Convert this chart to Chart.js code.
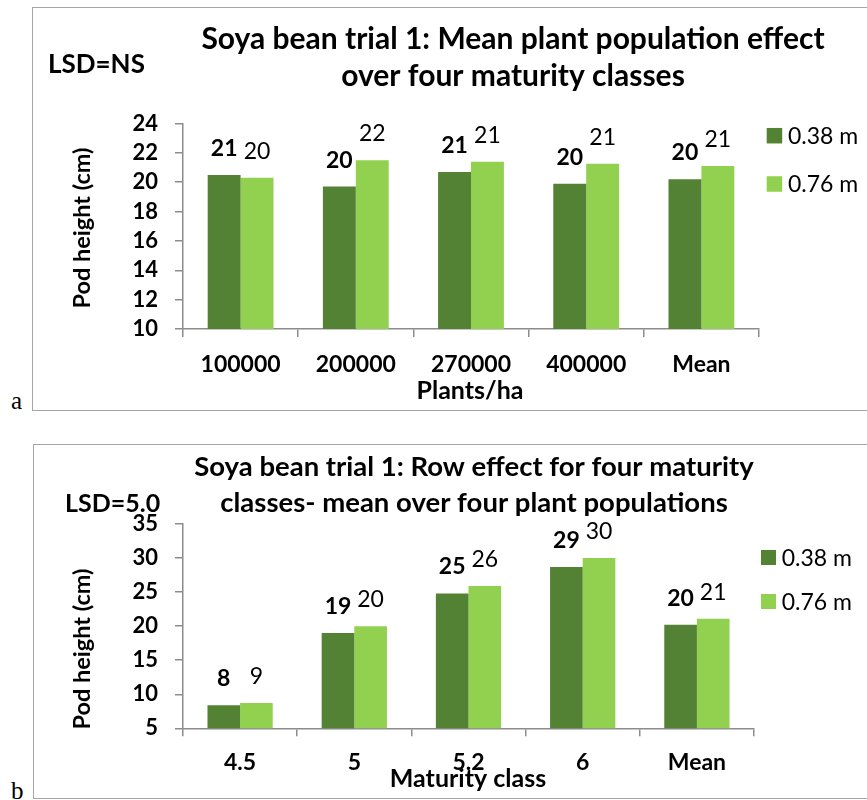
<!DOCTYPE html>
<html><head><meta charset="utf-8">
<script src="https://cdn.jsdelivr.net/npm/chart.js@4.4.1/dist/chart.umd.min.js"></script>
<style>
html,body{margin:0;padding:0;background:#fff;overflow:hidden;width:867px;height:800px;}
.box{position:absolute;border:1px solid #a6a6a6;box-sizing:border-box;}
#boxA{left:32px;top:7px;width:900px;height:404px;}
#boxB{left:33px;top:444px;width:900px;height:355px;}
.box canvas{position:absolute;left:0;top:0;}
.tag{position:absolute;font-family:'Liberation Serif',serif;font-size:25px;color:#000;line-height:1;}
</style></head>
<body>
<div class="tag" style="left:11px;top:388px;">a</div>
<div id="boxA" class="box"><canvas id="cA" width="834" height="402"></canvas></div>
<div class="tag" style="left:11px;top:778px;">b</div>
<div id="boxB" class="box"><canvas id="cB" width="833" height="353"></canvas></div>
<script>
// ---- data ----
const seriesLabels = ['0.38 m', '0.76 m'];
const popCategories = ['100000', '200000', '270000', '400000', 'Mean'];
const popRow038 = [20.5, 19.7, 20.7, 19.9, 20.2];
const popRow076 = [20.3, 21.5, 21.4, 21.25, 21.1];
const popAxis = [10, 24, 2];
const matCategories = ['4.5', '5', '5.2', '6', 'Mean'];
const matRow038 = [8.4, 19.0, 24.8, 28.7, 20.2];
const matRow076 = [8.7, 20.0, 25.9, 30.0, 21.1];
const matAxis = [5, 35, 5];
const titleA = ['Soya bean trial 1: Mean plant population effect', 'over four maturity classes'];
const titleB = ['Soya bean trial 1: Row effect for four maturity', 'classes- mean over four plant populations'];
const lsdA = 'LSD=NS';
const lsdB = 'LSD=5.0';
const xTitleA = 'Plants/ha';
const xTitleB = 'Maturity class';
const yTitle = 'Pod height (cm)';

const DARK = '#548235', LIGHT = '#92D050', AXIS = '#8c8c8c';
const FONT = 'Lato';

const annot = {
  id: 'annot',
  afterDatasetsDraw(chart) {
    const ctx = chart.ctx;
    chart.data.datasets.forEach((ds, di) => {
      const meta = chart.getDatasetMeta(di);
      meta.data.forEach((bar, i) => {
        ctx.save();
        ctx.font = (di === 0 ? 'bold ' : '') + '23px ' + FONT;
        ctx.fillStyle = '#000';
        ctx.textAlign = 'center';
        ctx.textBaseline = 'alphabetic';
        ctx.fillText(String(Math.round(ds.data[i])), bar.x, bar.y - 19);
        ctx.restore();
      });
    });
  },
  afterDraw(chart, args, o) {
    const ctx = chart.ctx;
    ctx.save();
    ctx.fillStyle = '#000';
    ctx.textBaseline = 'alphabetic';
    // title
    ctx.font = 'bold ' + o.titleSize + 'px ' + FONT;
    ctx.textAlign = 'center';
    o.title.forEach((t, i) => ctx.fillText(t, o.titleX, o.titleY[i]));
    // LSD
    ctx.font = 'bold ' + o.lsdSize + 'px ' + FONT;
    ctx.textAlign = 'left';
    ctx.fillText(o.lsd, o.lsdX, o.lsdY);
    // x title
    ctx.font = 'bold 25px ' + FONT;
    ctx.textAlign = 'center';
    ctx.fillText(o.xTitle, o.xTitleX, o.xTitleY);
    // y title
    ctx.save();
    ctx.translate(o.yTitleX, o.yTitleY);
    ctx.rotate(-Math.PI / 2);
    ctx.font = 'bold 23.5px ' + FONT;
    ctx.textAlign = 'center';
    ctx.fillText(yTitle, 0, 0);
    ctx.restore();
    // legend
    ctx.font = '23px ' + FONT;
    ctx.textAlign = 'left';
    chart.data.datasets.forEach((ds, i) => {
      ctx.fillStyle = ds.backgroundColor;
      ctx.fillRect(o.legX, o.legY[i] - o.legSq / 2, o.legSq, o.legSq);
      ctx.fillStyle = '#000';
      ctx.fillText(ds.label, o.legTextX, o.legY[i] + 8);
    });
    ctx.restore();
  }
};

function makeChart(id, cats, d1, d2, axis, geom, ann) {
  return new Chart(document.getElementById(id), {
    type: 'bar',
    data: {
      labels: cats,
      datasets: [
        { label: seriesLabels[0], data: d1, backgroundColor: DARK, borderWidth: 0 },
        { label: seriesLabels[1], data: d2, backgroundColor: LIGHT, borderWidth: 0 }
      ]
    },
    options: {
      responsive: false,
      animation: false,
      devicePixelRatio: 1,
      layout: { padding: { left: 0, top: geom.top, right: geom.right, bottom: 0 } },
      datasets: { bar: { categoryPercentage: 2 / 3.5, barPercentage: 1 } },
      plugins: { legend: { display: false }, tooltip: { enabled: false }, title: { display: false }, annot: ann },
      scales: {
        x: {
          offset: true,
          grid: { display: true, offset: true, drawOnChartArea: false, drawTicks: true, tickLength: 8, color: AXIS, lineWidth: 1.5 },
          border: { display: true, color: AXIS, width: 1.5 },
          ticks: { color: '#000', font: { family: FONT, size: 23, weight: 'bold' }, padding: geom.xPad, maxRotation: 0, autoSkip: false },
          afterFit(s) { s.height = geom.xH; }
        },
        y: {
          min: axis[0], max: axis[1],
          grid: { display: true, drawOnChartArea: false, drawTicks: true, tickLength: 8, color: AXIS, lineWidth: 1.5 },
          border: { display: true, color: AXIS, width: 1.5 },
          ticks: { stepSize: axis[2], autoSkip: false, color: '#000', font: { family: FONT, size: 22, weight: 'bold', lineHeight: 1 }, padding: 17 },
          afterFit(s) { s.width = geom.yW; }
        }
      }
    },
    plugins: [annot]
  });
}

makeChart('cA', popCategories, popRow038, popRow076, popAxis,
  { top: 115.5, right: 108, xH: 81, yW: 150, xPad: 14 },
  { title: titleA, titleSize: 30, titleX: 480, titleY: [41, 78], lsd: lsdA, lsdSize: 26, lsdX: 15, lsdY: 65,
    xTitle: xTitleA, xTitleX: 437, xTitleY: 391, yTitleX: 57, yTitleY: 220,
    legX: 733.7, legSq: 15.5, legY: [127.7, 176], legTextX: 755 });

makeChart('cB', matCategories, matRow038, matRow076, matAxis,
  { top: 79, right: 113, xH: 69.7, yW: 149, xPad: 12 },
  { title: titleB, titleSize: 27.5, titleX: 440, titleY: [31, 66.7], lsd: lsdB, lsdSize: 25, lsdX: 31, lsdY: 66.7,
    xTitle: xTitleB, xTitleX: 434, xTitleY: 341.7, yTitleX: 56, yTitleY: 204,
    legX: 727, legSq: 15, legY: [112.5, 156.5], legTextX: 747.7 });
</script>
</body></html>
